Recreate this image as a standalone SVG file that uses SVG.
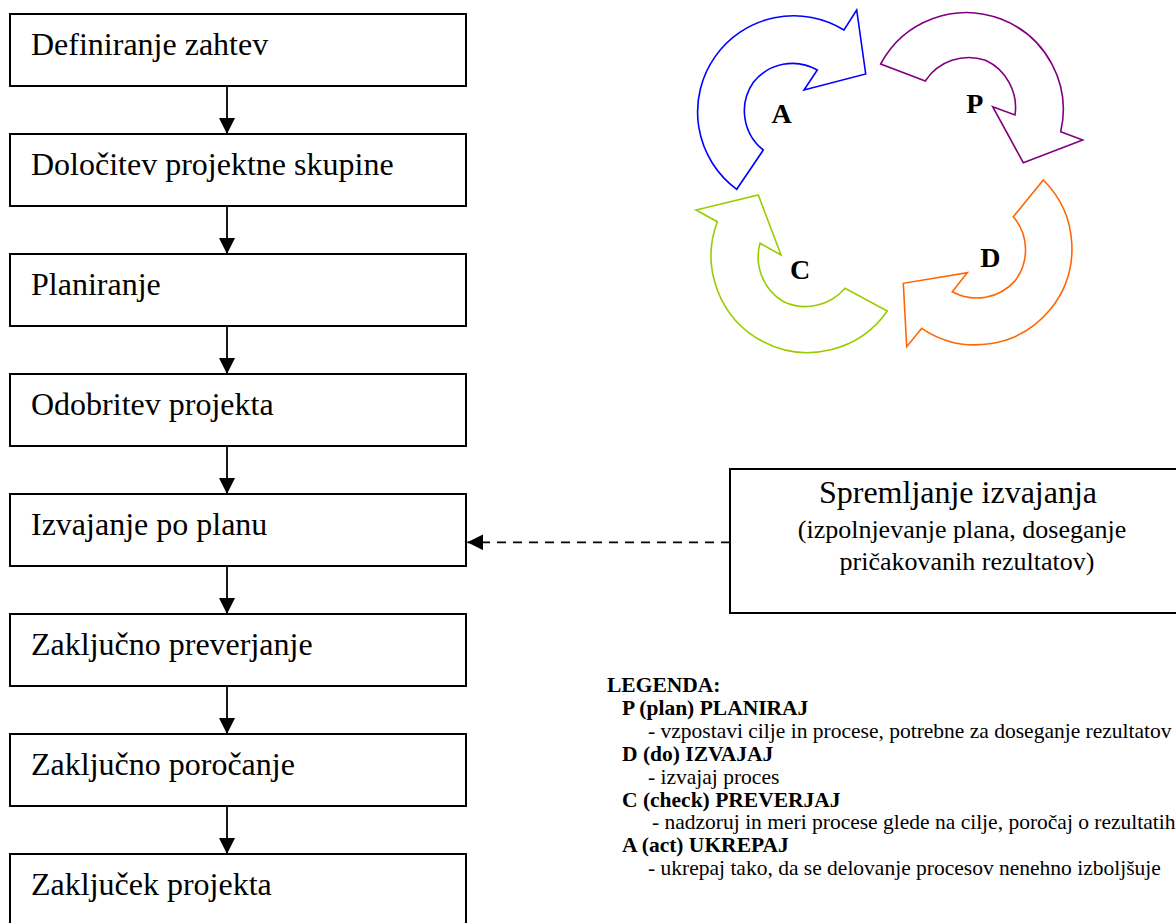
<svg xmlns="http://www.w3.org/2000/svg" width="1176" height="923" viewBox="0 0 1176 923">
<style>
.box{fill:#fff;stroke:#000;stroke-width:2}
.bt{font-family:"Liberation Serif","Times New Roman",serif;font-size:32px;fill:#000}
.st{font-family:"Liberation Serif","Times New Roman",serif;fill:#000;text-anchor:middle}
.conn{stroke:#000;stroke-width:1.8;fill:none}
.cyc{fill:#fff;stroke-width:1.6;stroke-linejoin:miter}
.cl{font-family:"Liberation Serif","Times New Roman",serif;font-size:28px;font-weight:bold;fill:#000;text-anchor:middle}
.lg{font-family:"Liberation Serif","Times New Roman",serif;font-size:21.5px;fill:#000}
.lb{font-weight:bold}
</style>
<defs>
<marker id="ah" markerUnits="userSpaceOnUse" markerWidth="16" markerHeight="16" refX="16" refY="8" orient="auto">
<path d="M0,0 L16,8 L0,16 Z" fill="#000"/>
</marker>
</defs>
<rect width="1176" height="923" fill="#fff"/>

<g id="n1"><rect class="box" x="10" y="14" width="456" height="72"/><text class="bt" x="31" y="54.7">Definiranje zahtev</text></g>
<g id="n2"><rect class="box" x="10" y="134" width="456" height="72"/><text class="bt" x="31" y="174.7">Določitev projektne skupine</text></g>
<g id="n3"><rect class="box" x="10" y="254" width="456" height="72"/><text class="bt" x="31" y="294.7">Planiranje</text></g>
<g id="n4"><rect class="box" x="10" y="374" width="456" height="72"/><text class="bt" x="31" y="414.7">Odobritev projekta</text></g>
<g id="n5"><rect class="box" x="10" y="494" width="456" height="72"/><text class="bt" x="31" y="534.7">Izvajanje po planu</text></g>
<g id="n6"><rect class="box" x="10" y="614" width="456" height="72"/><text class="bt" x="31" y="654.7">Zaključno preverjanje</text></g>
<g id="n7"><rect class="box" x="10" y="734" width="456" height="72"/><text class="bt" x="31" y="774.7">Zaključno poročanje</text></g>
<g id="n8"><rect class="box" x="10" y="854" width="456" height="72"/><text class="bt" x="31" y="894.7">Zaključek projekta</text></g>

<g id="monitor"><rect class="box" x="730" y="469" width="470" height="144"/>
<text class="st" x="958" y="503" font-size="32">Spremljanje izvajanja</text>
<text class="st" x="962" y="538" font-size="26">(izpolnjevanje plana, doseganje</text>
<text class="st" x="967" y="570" font-size="26">pričakovanih rezultatov)</text>
</g>

<g id="connectors">
<line class="conn" x1="227" y1="86" x2="227" y2="134" marker-end="url(#ah)"/>
<line class="conn" x1="227" y1="206" x2="227" y2="254" marker-end="url(#ah)"/>
<line class="conn" x1="227" y1="326" x2="227" y2="374" marker-end="url(#ah)"/>
<line class="conn" x1="227" y1="446" x2="227" y2="494" marker-end="url(#ah)"/>
<line class="conn" x1="227" y1="566" x2="227" y2="614" marker-end="url(#ah)"/>
<line class="conn" x1="227" y1="686" x2="227" y2="734" marker-end="url(#ah)"/>
<line class="conn" x1="227" y1="806" x2="227" y2="854" marker-end="url(#ah)"/>
<line class="conn" x1="730" y1="542.3" x2="467.3" y2="542.3" stroke-width="2.6" stroke-dasharray="9 7" marker-end="url(#ah)"/>
</g>

<g id="cycle">
<g id="arrowA">
<path class="cyc" stroke="#0000FF" d="M736.7,189.3 A96,96 0 0 1 715.3,56.4 A96,96 0 0 1 844,30 L856.7,10 L865.7,74 L804,90 L817.3,70 A50,50 0 0 0 753.4,82.2 A50,50 0 0 0 763.3,150 Z"/>
<text class="cl" x="781.7" y="123.3">A</text>
</g>
<g id="arrowP">
<path class="cyc" stroke="#800080" d="M880.7,64 A97,97 0 0 1 1001,19.1 A97,97 0 0 1 1060.7,131.7 L1082.7,140 L1023.3,162.7 L992.7,106.7 L1015,115 A52,52 0 0 0 985.5,60.3 A52,52 0 0 0 925.3,81 Z"/>
<text class="cl" x="974.7" y="113.3">P</text>
</g>
<g id="arrowD">
<path class="cyc" stroke="#FF6600" d="M1043.3,180 A96.5,96.5 0 0 1 1050.2,309.6 A96.5,96.5 0 0 1 921.7,328.3 L906.7,346.7 L903.3,283.3 L967.3,272.7 L952.3,291.7 A51,51 0 0 0 1015.2,280.6 A51,51 0 0 0 1013.3,216.7 Z"/>
<text class="cl" x="990.3" y="266.7">D</text>
</g>
<g id="arrowC">
<path class="cyc" stroke="#99CC00" d="M887.3,311 A97,97 0 0 1 762.7,341.5 A97,97 0 0 1 717.3,221.7 L696,210 L758.3,195 L781,255 L760,243.3 A52,52 0 0 0 783.6,301.7 A52,52 0 0 0 845,288.3 Z"/>
<text class="cl" x="800" y="279.3">C</text>
</g>
</g>

<g id="legend">
<text class="lg lb" x="607" y="692">LEGENDA:</text>
<text class="lg lb" x="622" y="714.9">P (plan) PLANIRAJ</text>
<text class="lg" x="648" y="737.8">- vzpostavi cilje in procese, potrebne za doseganje rezultatov</text>
<text class="lg lb" x="622" y="760.7">D (do) IZVAJAJ</text>
<text class="lg" x="648" y="783.6">- izvajaj proces</text>
<text class="lg lb" x="622" y="806.5">C (check) PREVERJAJ</text>
<text class="lg" x="652" y="829.4">- nadzoruj in meri procese glede na cilje, poročaj o rezultatih</text>
<text class="lg lb" x="622" y="852.3">A (act) UKREPAJ</text>
<text class="lg" x="648" y="875.2">- ukrepaj tako, da se delovanje procesov nenehno izboljšuje</text>
</g>
</svg>
